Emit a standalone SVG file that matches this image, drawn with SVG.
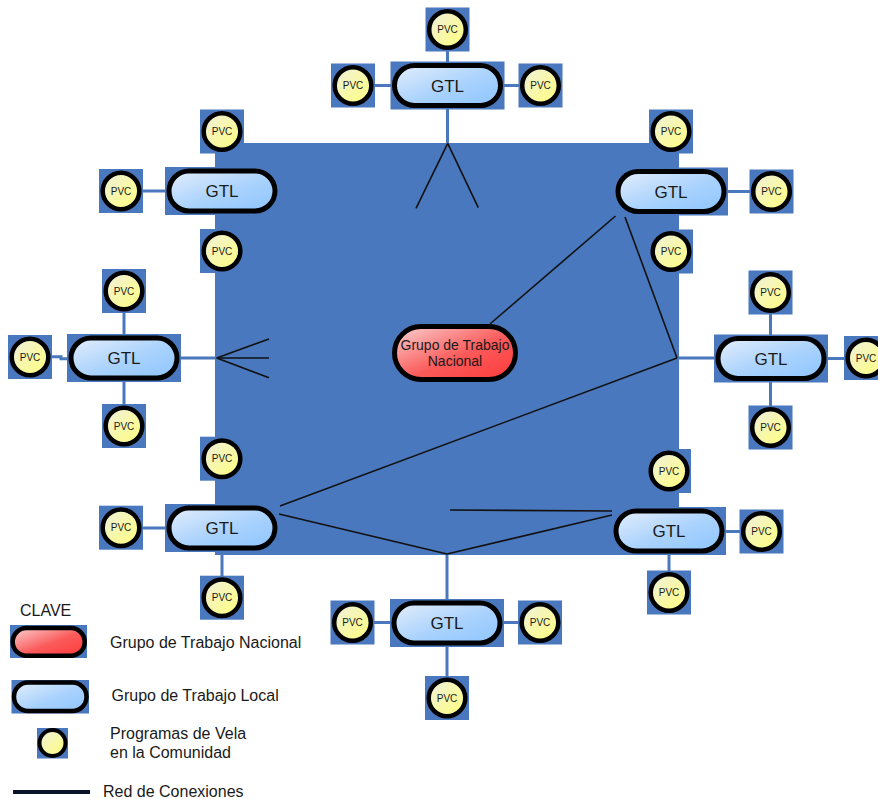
<svg xmlns="http://www.w3.org/2000/svg" width="878" height="799" viewBox="0 0 878 799">
<defs>
<linearGradient id="gBlue" x1="0" y1="0" x2="1" y2="1"><stop offset="0" stop-color="#e4eefb"/><stop offset="0.55" stop-color="#a9d2fd"/><stop offset="1" stop-color="#8ec5ff"/></linearGradient>
<linearGradient id="gRed" x1="0" y1="0" x2="1" y2="1"><stop offset="0" stop-color="#fad2d2"/><stop offset="0.55" stop-color="#fb5a5a"/><stop offset="1" stop-color="#ff3a3a"/></linearGradient>
<linearGradient id="gYel" x1="0" y1="0" x2="1" y2="1"><stop offset="0" stop-color="#efefe2"/><stop offset="0.6" stop-color="#f9f9a0"/><stop offset="1" stop-color="#ffff80"/></linearGradient>
</defs>
<style>
.bk{fill:#4a78be}
.pill{fill:url(#gBlue);stroke:#000;stroke-width:5}
.nat{fill:url(#gRed);stroke:#000;stroke-width:5}
.pvc{fill:url(#gYel);stroke:#000;stroke-width:4.5}
.t{font-family:"Liberation Sans",Arial,sans-serif;fill:#1a1a1a}
.gtl{font-size:17px;text-anchor:middle}
.pt{font-size:10px;text-anchor:middle}
.bl{stroke:#4a78be;stroke-width:3;fill:none}
.net{stroke:#111;stroke-width:1.6;fill:none}
.lg{font-size:16px}
</style>
<rect id="area" x="215" y="143" width="464" height="412" fill="#4a78be"/>
<g id="connectors">
<line class="bl" x1="447.5" y1="49" x2="447.5" y2="66"/>
<line class="bl" x1="372" y1="85.5" x2="395" y2="85.5"/>
<line class="bl" x1="500" y1="85.5" x2="521" y2="85.5"/>
<line class="bl" x1="447.5" y1="105" x2="447.5" y2="143"/>
<line class="bl" x1="222" y1="151" x2="222" y2="171"/>
<line class="bl" x1="140" y1="191" x2="170" y2="191"/>
<line class="bl" x1="222" y1="210" x2="222" y2="231"/>
<line class="bl" x1="671" y1="151" x2="671" y2="172"/>
<line class="bl" x1="722" y1="191.5" x2="752" y2="191.5"/>
<line class="bl" x1="671" y1="211" x2="671" y2="232"/>
<line class="bl" x1="124" y1="310" x2="124" y2="339"/>
<polyline class="bl" points="49,356.7 61,356.7 61,358.7 72,358.7"/>
<line class="bl" x1="124" y1="377" x2="124" y2="407"/>
<line class="bl" x1="176" y1="358" x2="217" y2="358"/>
<line class="bl" x1="770.5" y1="311" x2="770.5" y2="339"/>
<line class="bl" x1="822" y1="358.5" x2="847" y2="358.5"/>
<line class="bl" x1="770.5" y1="378" x2="770.5" y2="408"/>
<line class="bl" x1="677" y1="358" x2="719" y2="358"/>
<line class="bl" x1="222" y1="478" x2="222" y2="509"/>
<line class="bl" x1="140" y1="528" x2="170" y2="528"/>
<line class="bl" x1="222" y1="547" x2="222" y2="578"/>
<line class="bl" x1="669" y1="490" x2="669" y2="512"/>
<line class="bl" x1="720" y1="531.5" x2="742" y2="531.5"/>
<line class="bl" x1="669" y1="550" x2="669" y2="573"/>
<line class="bl" x1="447" y1="554" x2="447" y2="604"/>
<line class="bl" x1="371" y1="622.5" x2="395" y2="622.5"/>
<line class="bl" x1="499" y1="622.5" x2="521" y2="622.5"/>
<line class="bl" x1="447" y1="642" x2="447" y2="679"/>
<line class="net" x1="447.7" y1="143.3" x2="416" y2="208.3"/>
<line class="net" x1="447.7" y1="143.3" x2="478.3" y2="207.7"/>
<line class="net" x1="615.5" y1="216" x2="490" y2="324"/>
<line class="net" x1="625" y1="217" x2="677" y2="358"/>
<line class="net" x1="677" y1="358" x2="280" y2="506"/>
<line class="net" x1="216.7" y1="358" x2="269" y2="339"/>
<line class="net" x1="216.7" y1="358" x2="269" y2="358"/>
<line class="net" x1="216.7" y1="358" x2="269" y2="377.7"/>
<line class="net" x1="279" y1="514" x2="447" y2="554"/>
<line class="net" x1="447" y1="554" x2="612" y2="515"/>
<line class="net" x1="450" y1="510" x2="612" y2="511"/>
</g>
<g id="gtn">
<rect class="nat" x="394.5" y="326.5" width="121" height="53" rx="26.5"/>
<text class="t" x="455" y="350" font-size="14" text-anchor="middle">Grupo de Trabajo</text>
<text class="t" x="455" y="366" font-size="14" text-anchor="middle">Nacional</text>
</g>
<g id="gtl-top"><rect class="bk" x="390.5" y="61.5" width="114" height="48"/><rect class="pill" x="394.5" y="65.5" width="106" height="40" rx="20"/><text class="t gtl" x="447.5" y="91.5">GTL</text></g>
<g id="gtl-ul"><rect class="bk" x="165" y="167" width="114" height="48"/><rect class="pill" x="169" y="171" width="106" height="40" rx="20"/><text class="t gtl" x="222" y="197">GTL</text></g>
<g id="gtl-ur"><rect class="bk" x="614" y="167.5" width="114" height="48"/><rect class="pill" x="618" y="171.5" width="106" height="40" rx="20"/><text class="t gtl" x="671" y="197.5">GTL</text></g>
<g id="gtl-l"><rect class="bk" x="67" y="334" width="114" height="48"/><rect class="pill" x="71" y="338" width="106" height="40" rx="20"/><text class="t gtl" x="124" y="364">GTL</text></g>
<g id="gtl-r"><rect class="bk" x="714" y="334.5" width="114" height="48"/><rect class="pill" x="718" y="338.5" width="106" height="40" rx="20"/><text class="t gtl" x="771" y="364.5">GTL</text></g>
<g id="gtl-ll"><rect class="bk" x="165" y="504" width="114" height="48"/><rect class="pill" x="169" y="508" width="106" height="40" rx="20"/><text class="t gtl" x="222" y="534">GTL</text></g>
<g id="gtl-lr"><rect class="bk" x="612" y="507" width="114" height="48"/><rect class="pill" x="616" y="511" width="106" height="40" rx="20"/><text class="t gtl" x="669" y="537">GTL</text></g>
<g id="gtl-b"><rect class="bk" x="390" y="599" width="114" height="48"/><rect class="pill" x="394" y="603" width="106" height="40" rx="20"/><text class="t gtl" x="447" y="629">GTL</text></g>
<g id="pvc-t1"><rect class="bk" x="425.5" y="7.5" width="44" height="44"/><circle class="pvc" cx="447.5" cy="29.5" r="18.3"/><text class="t pt" x="447.5" y="33">PVC</text></g>
<g id="pvc-t2"><rect class="bk" x="331" y="63.5" width="44" height="44"/><circle class="pvc" cx="353" cy="85.5" r="18.3"/><text class="t pt" x="353" y="89">PVC</text></g>
<g id="pvc-t3"><rect class="bk" x="518.5" y="63.5" width="44" height="44"/><circle class="pvc" cx="540.5" cy="85.5" r="18.3"/><text class="t pt" x="540.5" y="89">PVC</text></g>
<g id="pvc-ul1"><rect class="bk" x="200" y="109.5" width="44" height="44"/><circle class="pvc" cx="222" cy="131.5" r="18.3"/><text class="t pt" x="222" y="135">PVC</text></g>
<g id="pvc-ul2"><rect class="bk" x="99" y="169" width="44" height="44"/><circle class="pvc" cx="121" cy="191" r="18.3"/><text class="t pt" x="121" y="194.5">PVC</text></g>
<g id="pvc-ul3"><rect class="bk" x="200" y="229" width="44" height="44"/><circle class="pvc" cx="222" cy="251" r="18.3"/><text class="t pt" x="222" y="254.5">PVC</text></g>
<g id="pvc-ur1"><rect class="bk" x="649" y="109.5" width="44" height="44"/><circle class="pvc" cx="671" cy="131.5" r="18.3"/><text class="t pt" x="671" y="135">PVC</text></g>
<g id="pvc-ur2"><rect class="bk" x="749.5" y="169.5" width="44" height="44"/><circle class="pvc" cx="771.5" cy="191.5" r="18.3"/><text class="t pt" x="771.5" y="195">PVC</text></g>
<g id="pvc-ur3"><rect class="bk" x="649" y="229.5" width="44" height="44"/><circle class="pvc" cx="671" cy="251.5" r="18.3"/><text class="t pt" x="671" y="255">PVC</text></g>
<g id="pvc-l1"><rect class="bk" x="102" y="269" width="44" height="44"/><circle class="pvc" cx="124" cy="291" r="18.3"/><text class="t pt" x="124" y="294.5">PVC</text></g>
<g id="pvc-l2"><rect class="bk" x="8" y="335" width="44" height="44"/><circle class="pvc" cx="30" cy="357" r="18.3"/><text class="t pt" x="30" y="360.5">PVC</text></g>
<g id="pvc-l3"><rect class="bk" x="102" y="404" width="44" height="44"/><circle class="pvc" cx="124" cy="426" r="18.3"/><text class="t pt" x="124" y="429.5">PVC</text></g>
<g id="pvc-r1"><rect class="bk" x="748.5" y="270.5" width="44" height="44"/><circle class="pvc" cx="770.5" cy="292.5" r="18.3"/><text class="t pt" x="770.5" y="296">PVC</text></g>
<g id="pvc-r2"><rect class="bk" x="844" y="336" width="44" height="44"/><circle class="pvc" cx="866" cy="358" r="18.3"/><text class="t pt" x="866" y="361.5">PVC</text></g>
<g id="pvc-r3"><rect class="bk" x="748.5" y="405.5" width="44" height="44"/><circle class="pvc" cx="770.5" cy="427.5" r="18.3"/><text class="t pt" x="770.5" y="431">PVC</text></g>
<g id="pvc-ll1"><rect class="bk" x="200" y="436.7" width="44" height="44"/><circle class="pvc" cx="222" cy="458.7" r="18.3"/><text class="t pt" x="222" y="462.2">PVC</text></g>
<g id="pvc-ll2"><rect class="bk" x="99" y="505.7" width="44" height="44"/><circle class="pvc" cx="121" cy="527.7" r="18.3"/><text class="t pt" x="121" y="531.2">PVC</text></g>
<g id="pvc-ll3"><rect class="bk" x="200" y="575.7" width="44" height="44"/><circle class="pvc" cx="222" cy="597.7" r="18.3"/><text class="t pt" x="222" y="601.2">PVC</text></g>
<g id="pvc-lr1"><rect class="bk" x="647" y="449" width="44" height="44"/><circle class="pvc" cx="669" cy="471" r="18.3"/><text class="t pt" x="669" y="474.5">PVC</text></g>
<g id="pvc-lr2"><rect class="bk" x="739.5" y="509.5" width="44" height="44"/><circle class="pvc" cx="761.5" cy="531.5" r="18.3"/><text class="t pt" x="761.5" y="535">PVC</text></g>
<g id="pvc-lr3"><rect class="bk" x="647" y="570.5" width="44" height="44"/><circle class="pvc" cx="669" cy="592.5" r="18.3"/><text class="t pt" x="669" y="596">PVC</text></g>
<g id="pvc-b1"><rect class="bk" x="330.5" y="600.5" width="44" height="44"/><circle class="pvc" cx="352.5" cy="622.5" r="18.3"/><text class="t pt" x="352.5" y="626">PVC</text></g>
<g id="pvc-b2"><rect class="bk" x="518" y="600.5" width="44" height="44"/><circle class="pvc" cx="540" cy="622.5" r="18.3"/><text class="t pt" x="540" y="626">PVC</text></g>
<g id="pvc-b3"><rect class="bk" x="425" y="676" width="44" height="44"/><circle class="pvc" cx="447" cy="698" r="18.3"/><text class="t pt" x="447" y="701.5">PVC</text></g>
<g id="legend">
<text class="t lg" x="20" y="616">CLAVE</text>
<rect class="bk" x="10" y="625" width="77" height="33"/>
<rect class="nat" x="12.7" y="628" width="72" height="27.7" rx="13.8" style="stroke-width:4.5"/>
<text class="t lg" x="110" y="648">Grupo de Trabajo Nacional</text>
<rect class="bk" x="11.5" y="680" width="77.5" height="33.5"/>
<rect class="pill" x="14" y="682.5" width="72.5" height="28.5" rx="14" style="stroke-width:4.5"/>
<text class="t lg" x="111.5" y="701">Grupo de Trabajo Local</text>
<rect class="bk" x="37" y="728" width="31" height="30.5"/>
<circle class="pvc" cx="52.5" cy="743" r="13" style="stroke-width:4"/>
<text class="t lg" x="110" y="739">Programas de Vela</text>
<text class="t lg" x="110" y="758">en la Comunidad</text>
<line x1="13" y1="792" x2="90" y2="792" stroke="#0a1428" stroke-width="4"/>
<text class="t lg" x="103" y="797">Red de Conexiones</text>
</g>
</svg>
